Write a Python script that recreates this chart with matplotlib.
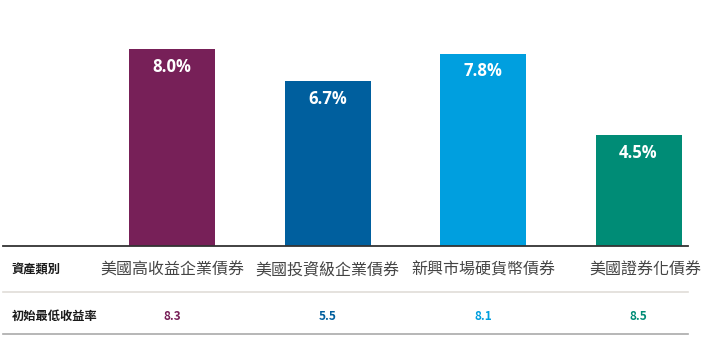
import matplotlib
matplotlib.use('Agg')
import matplotlib.pyplot as plt

plt.rcParams['font.family'] = ['Noto Sans CJK TC', 'DejaVu Sans']

# --- Data ---
categories = ['美國高收益企業債券', '美國投資級企業債券', '新興市場硬貨幣債券', '美國證券化債券']
yields = [8.0, 6.7, 7.8, 4.5]
min_yields = ['8.3', '5.5', '8.1', '8.5']
colors = ['#772058', '#005F9E', '#009FDF', '#008C76']
row_headers = ['資產類別', '初始最低收益率']

W, H = 710, 354
fig = plt.figure(figsize=(W / 100, H / 100), dpi=100, facecolor='white')

# axes: baseline at y=246px from top, spans x 3..688 px
ax = fig.add_axes([3 / W, (H - 246) / H, 685 / W, 246 / H])
ax.set_facecolor('none')
x = list(range(len(categories)))
ax.bar(x, yields, width=0.553, color=colors, zorder=2)
ax.set_ylim(0, 10)
ax.set_xlim(-1.087, 3.318)
for s in ['top', 'right', 'left']:
    ax.spines[s].set_visible(False)
ax.spines['bottom'].set_color('#333333')
ax.spines['bottom'].set_linewidth(1.3)
ax.set_xticks([])
ax.set_yticks([])

for xi, v in zip(x, yields):
    ax.annotate(f'{v:.1f}%', (xi, v), xytext=(0, -12.5), textcoords='offset points',
                ha='center', va='center', color='white', fontsize=12,
                fontweight='bold', family=['Open Sans', 'DejaVu Sans'])

# --- Table below ---
def fy(px):
    return (H - px) / H

tx = matplotlib.transforms.blended_transform_factory(ax.transData, fig.transFigure)

fig.text(12 / W, fy(270), row_headers[0], fontsize=8.8, fontweight='bold',
         color='#1a1a1a', ha='left', va='center')
fig.text(12 / W, fy(316), row_headers[1], fontsize=8.8, fontweight='bold',
         color='#1a1a1a', ha='left', va='center')

label_shift = [0, 0, 0, 0.045]
for xi, cat, mv, c, sh in zip(x, categories, min_yields, colors, label_shift):
    ax.text(xi + sh, fy(270), cat, transform=tx, ha='center', va='center',
            fontsize=11.5, color='#444444', fontweight='light')
    ax.text(xi, fy(316), mv, transform=tx, ha='center', va='center',
            fontsize=8.5, color=c, fontweight='bold')

fig.add_artist(plt.Line2D([3 / W, 688 / W], [fy(292), fy(292)],
                          color='#e0ddd8', linewidth=1.2))
fig.add_artist(plt.Line2D([3 / W, 688 / W], [fy(333.5), fy(333.5)],
                          color='#aaaaaa', linewidth=1.2))

fig.savefig('out.png', dpi=100, facecolor='white')
